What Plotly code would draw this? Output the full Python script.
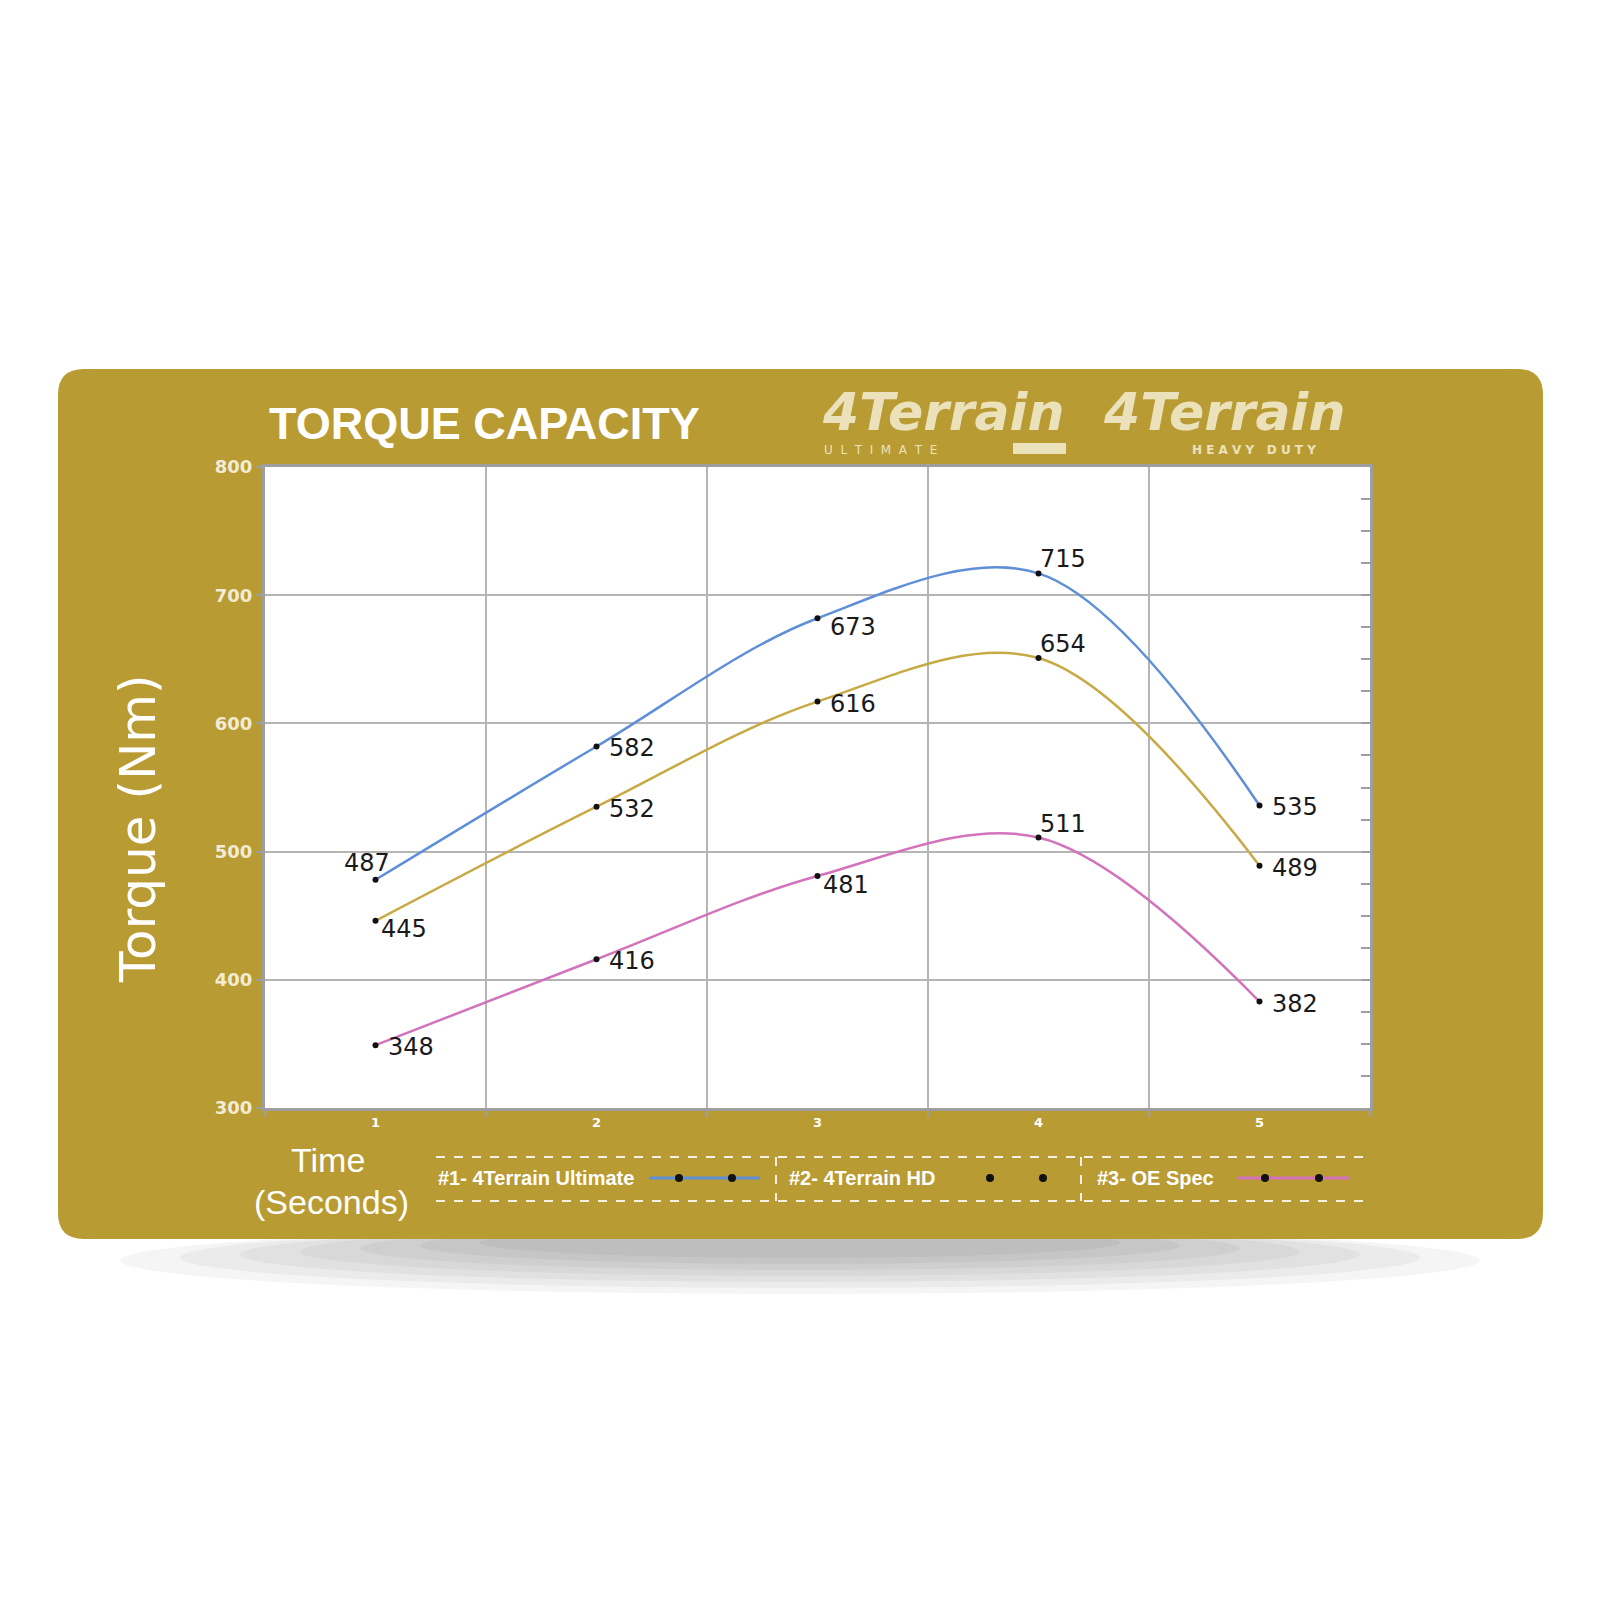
import plotly.graph_objects as go

# ---------------- data ----------------
time_s = [1, 2, 3, 4, 5]
series_names = ["#1- 4Terrain Ultimate", "#2- 4Terrain HD", "#3- OE Spec"]
ultimate = [478, 582, 682, 717, 536]
ultimate_labels = ["487", "582", "673", "715", "535"]
hd = [446, 535, 617, 651, 489]
hd_labels = ["445", "532", "616", "654", "489"]
oe = [349, 416, 481, 511, 383]
oe_labels = ["348", "416", "481", "511", "382"]
y_ticks = [300, 400, 500, 600, 700, 800]
x_ticks = [1, 2, 3, 4, 5]

# ---------------- style ----------------
GOLD = "#B99B33"
CREAM = "#EBE2BC"
COLORS = ["#5F8FD8", "#C8AA45", "#D273BC"]
PLACE = [["tl", "r", "rb", "tr", "r"],
         ["rb2", "r", "r", "tr", "r"],
         ["r", "r", "br", "tr", "r"]]
SHIFT = {"r": (10, -2, "left"), "rb": (10, -9, "left"), "rb2": (3, -8, "left"),
         "br": (3, -9, "left"), "tr": (-1, 14, "left"), "tl": (-9, 17, "center")}

W, H = 1600, 1600
OFF = 8  # page body margin
# plot area in page pixels
PL, PR, PT, PB = 265, 1370, 467, 1108


def px(x):
    return (x - PL) / (PR - PL)


def py(y):
    return (PB - y) / (PB - PT)


fig = go.Figure()

data = [ultimate, hd, oe]
labels = [ultimate_labels, hd_labels, oe_labels]
for i, (vals, name) in enumerate(zip(data, series_names)):
    fig.add_trace(go.Scatter(
        x=time_s, y=vals, name=name, mode="lines+markers",
        line=dict(color=COLORS[i], width=2.5, shape="spline", smoothing=1.0),
        marker=dict(color="#111111", size=6), showlegend=False, hoverinfo="skip"))

# invisible trace to create right-hand axis with small ticks
fig.add_trace(go.Scatter(x=time_s, y=ultimate, yaxis="y2", mode="markers",
                         marker=dict(opacity=0), showlegend=False, hoverinfo="skip"))

LABEL_FONT = dict(family="DejaVu Sans, Liberation Sans", size=24, color="#1a1a1a")
annotations = []
for i in range(3):
    for j, (xv, yv, lab) in enumerate(zip(time_s, data[i], labels[i])):
        dx, dy, anc = SHIFT[PLACE[i][j]]
        annotations.append(dict(x=xv, y=yv, xref="x", yref="y", text=lab, showarrow=False,
                                xanchor=anc, yanchor="middle", xshift=dx, yshift=dy, font=LABEL_FONT))

shapes = []
# shadow under the panel
for k in range(7):
    shapes.append(dict(type="circle", xref="paper", yref="paper", layer="below",
                       x0=px(800 - 680 + k * 60), x1=px(800 + 680 - k * 60),
                       y0=py(1239 - 12), y1=py(1239 + 55 - k * 6),
                       fillcolor="rgba(0,0,0,0.04)", line=dict(width=0)))
# gold panel with rounded corners
x0, x1, y0, y1, r = 58, 1543, 369, 1239, 26
path = (f"M {px(x0 + r)},{py(y0)} L {px(x1 - r)},{py(y0)} Q {px(x1)},{py(y0)} {px(x1)},{py(y0 + r)} "
        f"L {px(x1)},{py(y1 - r)} Q {px(x1)},{py(y1)} {px(x1 - r)},{py(y1)} "
        f"L {px(x0 + r)},{py(y1)} Q {px(x0)},{py(y1)} {px(x0)},{py(y1 - r)} "
        f"L {px(x0)},{py(y0 + r)} Q {px(x0)},{py(y0)} {px(x0 + r)},{py(y0)} Z")
shapes.append(dict(type="path", path=path, xref="paper", yref="paper", layer="below",
                   fillcolor=GOLD, line=dict(width=0)))
# white plot area
shapes.append(dict(type="rect", xref="paper", yref="paper", layer="below",
                   x0=0, x1=1, y0=0, y1=1, fillcolor="white", line=dict(width=0)))

# legend box (dashed)
LX0, LX1, LY0, LY1 = 436, 1365, 1157, 1201
dash = dict(color="rgba(255,255,255,0.85)", width=2, dash="dash")
shapes.append(dict(type="line", xref="paper", yref="paper", x0=px(LX0), x1=px(LX1), y0=py(LY0), y1=py(LY0), line=dash))
shapes.append(dict(type="line", xref="paper", yref="paper", x0=px(LX0), x1=px(LX1), y0=py(LY1), y1=py(LY1), line=dash))
for sx in [776, 1081]:
    shapes.append(dict(type="line", xref="paper", yref="paper", x0=px(sx), x1=px(sx), y0=py(LY0), y1=py(LY1), line=dash))

leg_text_x = [436, 787, 1095]
leg_line = [(649, 760), None, (1237, 1349)]
leg_dots = [(679, 732), (990, 1043), (1265, 1319)]
LYC = 1178
for i, name in enumerate(series_names):
    annotations.append(dict(x=px(leg_text_x[i]), y=py(LYC), xref="paper", yref="paper", text=f"<b>{name}</b>",
                            showarrow=False, xanchor="left", yanchor="middle",
                            font=dict(family="Liberation Sans, Arial", size=20, color="white")))
    if leg_line[i]:
        shapes.append(dict(type="line", xref="paper", yref="paper", x0=px(leg_line[i][0]), x1=px(leg_line[i][1]),
                           y0=py(LYC), y1=py(LYC), line=dict(color=COLORS[i], width=3)))
    for d in leg_dots[i]:
        shapes.append(dict(type="circle", xref="paper", yref="paper", x0=px(d - 4), x1=px(d + 4),
                           y0=py(LYC - 4), y1=py(LYC + 4), fillcolor="#111111", line=dict(width=0)))

NB = "\u00a0"
ultimate_word = (NB * 2).join("ULTIMATE")
heavy_word = NB.join("HEAVY") + NB * 3 + NB.join("DUTY")
LOGO_FONT = "DejaVu Sans, Liberation Sans"

# titles and logos
annotations += [
    dict(x=px(267), y=py(424), xref="paper", yref="paper", text="<b>TORQUE CAPACITY</b>", showarrow=False,
         xanchor="left", yanchor="middle", font=dict(family="Liberation Sans, Arial", size=45, color="white")),
    dict(x=px(138), y=py(829), xref="paper", yref="paper", text="Torque (Nm)", showarrow=False, textangle=-90,
         xanchor="center", yanchor="middle", font=dict(family="DejaVu Sans, Liberation Sans", size=50, color="white")),
    dict(x=px(328), y=py(1160), xref="paper", yref="paper", text="Time", showarrow=False,
         xanchor="center", yanchor="middle", font=dict(family="Liberation Sans, Arial", size=34, color="white")),
    dict(x=px(331), y=py(1202), xref="paper", yref="paper", text="(Seconds)", showarrow=False,
         xanchor="center", yanchor="middle", font=dict(family="Liberation Sans, Arial", size=34, color="white")),
    # logo 1
    dict(x=px(820), y=py(412), xref="paper", yref="paper", text="<b><i>4Terrain</i></b>",
         showarrow=False, xanchor="left", yanchor="middle",
         font=dict(family=LOGO_FONT, size=52, color=CREAM)),
    dict(x=px(822), y=py(450), xref="paper", yref="paper", text=ultimate_word,
         showarrow=False, xanchor="left", yanchor="middle",
         font=dict(family=LOGO_FONT, size=12, color=CREAM)),
    # logo 2
    dict(x=px(1347), y=py(412), xref="paper", yref="paper", text="<b><i>4Terrain</i></b>",
         showarrow=False, xanchor="right", yanchor="middle",
         font=dict(family=LOGO_FONT, size=52, color=CREAM)),
    dict(x=px(1254), y=py(450), xref="paper", yref="paper", text=f"<b>{heavy_word}</b>",
         showarrow=False, xanchor="center", yanchor="middle",
         font=dict(family=LOGO_FONT, size=12, color=CREAM)),
]
shapes.append(dict(type="rect", xref="paper", yref="paper", x0=px(1013), x1=px(1066), y0=py(454), y1=py(443),
                   fillcolor=CREAM, line=dict(width=0)))

GRID = "#B5B5B5"
fig.update_layout(
    width=W, height=H,
    margin=dict(l=PL - OFF, r=W - (PR - OFF), t=PT - OFF, b=H - (PB - OFF)),
    paper_bgcolor="white", plot_bgcolor="rgba(0,0,0,0)",
    shapes=shapes, annotations=annotations, showlegend=False,
    xaxis=dict(range=[0.5, 5.5], tickmode="array", tickvals=x_ticks, ticktext=[str(t) for t in x_ticks],
               showgrid=False, zeroline=False, ticks="", ticklen=0,
               tickfont=dict(family="DejaVu Sans, Liberation Sans", size=13, color="white", weight="bold"),
               showline=True, linecolor="#9E9E9E", linewidth=3, mirror=True,
               minor=dict(tick0=0.5, dtick=1, showgrid=True, gridcolor=GRID, gridwidth=2,
                          ticks="outside", ticklen=6, tickcolor="#9E9E9E", tickwidth=2)),
    yaxis=dict(range=[300, 800], tickmode="array", tickvals=y_ticks, showgrid=True, gridcolor=GRID, gridwidth=2,
               zeroline=False, ticks="outside", ticklen=6, tickcolor="#9E9E9E", tickwidth=2,
               tickfont=dict(family="DejaVu Sans, Liberation Sans", size=18, color="#F3ECD4", weight="bold"),
               showline=True, linecolor="#9E9E9E", linewidth=3, mirror=True),
    yaxis2=dict(range=[300, 800], overlaying="y", side="right", tickmode="linear", tick0=300, dtick=25,
                ticks="inside", ticklen=9, tickcolor="#9E9E9E", tickwidth=2, showticklabels=False,
                showgrid=False, zeroline=False, showline=False),
)

fig.write_html("out.html")
